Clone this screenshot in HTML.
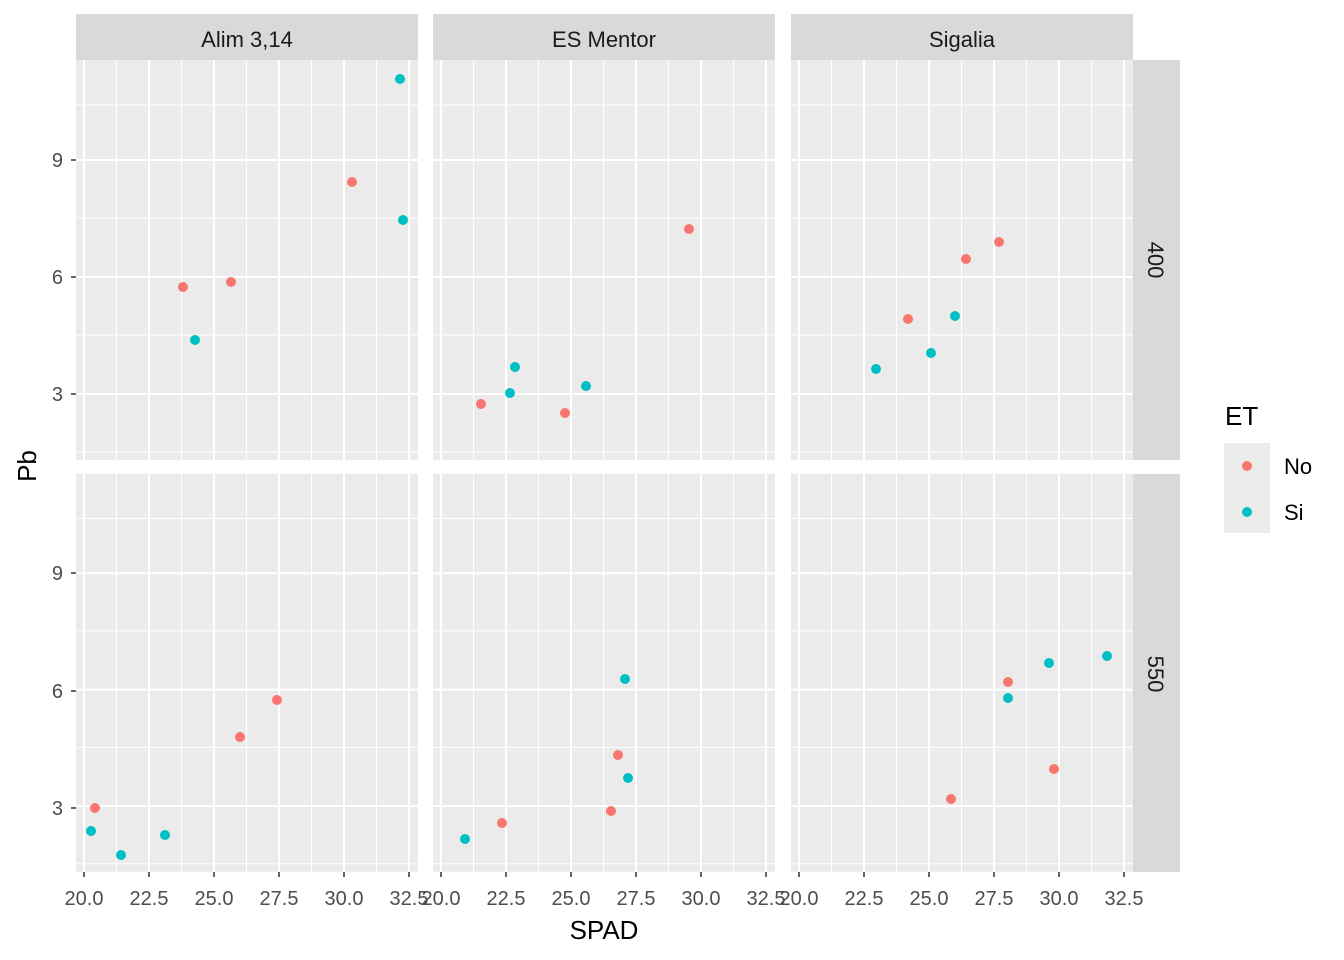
<!DOCTYPE html>
<html><head><meta charset="utf-8"><style>body{margin:0;background:#fff}svg{display:block}text{font-family:"Liberation Sans",Arial,sans-serif}</style></head>
<body>
<svg width="1344" height="960" viewBox="0 0 1344 960" xmlns="http://www.w3.org/2000/svg">
<defs>
<g id="grid">
<rect x="0" y="0" width="342" height="400" fill="#EBEBEB"/>
<g stroke="#fff" stroke-width="1">
<line x1="0" x2="342" y1="45" y2="45"/><line x1="0" x2="342" y1="158" y2="158"/><line x1="0" x2="342" y1="275" y2="275"/><line x1="0" x2="342" y1="392" y2="392"/>
<line y1="0" y2="400" x1="40.5" x2="40.5"/><line y1="0" y2="400" x1="105.5" x2="105.5"/><line y1="0" y2="400" x1="170.5" x2="170.5"/><line y1="0" y2="400" x1="235.5" x2="235.5"/><line y1="0" y2="400" x1="300.5" x2="300.5"/>
</g>
<g stroke="#fff" stroke-width="2">
<line x1="0" x2="342" y1="100" y2="100"/><line x1="0" x2="342" y1="217" y2="217"/><line x1="0" x2="342" y1="334" y2="334"/>
<line y1="0" y2="400" x1="8" x2="8"/><line y1="0" y2="400" x1="73" x2="73"/><line y1="0" y2="400" x1="138" x2="138"/><line y1="0" y2="400" x1="203" x2="203"/><line y1="0" y2="400" x1="268" x2="268"/><line y1="0" y2="400" x1="333" x2="333"/>
</g>
</g>
</defs>
<use href="#grid" x="76" y="60"/><use href="#grid" x="433" y="60"/><use href="#grid" x="791" y="60"/>
<g transform="translate(0,413) scale(1,0.995)"><use href="#grid" x="76" y="61"/><use href="#grid" x="433" y="61"/><use href="#grid" x="791" y="61"/></g>
<g fill="#D9D9D9">
<rect x="76" y="14" width="342" height="46"/><rect x="433" y="14" width="342" height="46"/><rect x="791" y="14" width="342" height="46"/>
<rect x="1133" y="60" width="47" height="400"/><rect x="1133" y="474" width="47" height="398"/>
</g>
<g font-size="22" fill="#1A1A1A" text-anchor="middle">
<text x="247" y="47">Alim 3,14</text><text x="604" y="47">ES Mentor</text><text x="962" y="47">Sigalia</text>
<text transform="translate(1148,260) rotate(90)">400</text>
<text transform="translate(1148,674) rotate(90)">550</text>
</g>
<g font-size="20" fill="#4D4D4D" text-anchor="end">
<text x="63" y="167">9</text><text x="63" y="284">6</text><text x="63" y="401">3</text>
<text x="63" y="580">9</text><text x="63" y="698">6</text><text x="63" y="815">3</text>
</g>
<g stroke="#333" stroke-width="1.5">
<line x1="71" x2="76" y1="160" y2="160"/><line x1="71" x2="76" y1="277" y2="277"/><line x1="71" x2="76" y1="394" y2="394"/>
<line x1="71" x2="76" y1="573" y2="573"/><line x1="71" x2="76" y1="691" y2="691"/><line x1="71" x2="76" y1="808" y2="808"/>
</g>
<g id="xt" font-size="20" fill="#4D4D4D" text-anchor="middle">
<text x="84" y="905">20.0</text><text x="149" y="905">22.5</text><text x="214" y="905">25.0</text><text x="279" y="905">27.5</text><text x="344" y="905">30.0</text><text x="409" y="905">32.5</text>
<g stroke="#333" stroke-width="1.5"><line x1="84" x2="84" y1="872" y2="877"/><line x1="149" x2="149" y1="872" y2="877"/><line x1="214" x2="214" y1="872" y2="877"/><line x1="279" x2="279" y1="872" y2="877"/><line x1="344" x2="344" y1="872" y2="877"/><line x1="409" x2="409" y1="872" y2="877"/></g>
</g>
<use href="#xt" x="357"/><use href="#xt" x="715"/>
<text x="604" y="939" font-size="26" text-anchor="middle" fill="#000">SPAD</text>
<text transform="translate(36,466) rotate(-90)" font-size="26" text-anchor="middle" fill="#000">Pb</text>
<g fill="#F8766D">
<circle cx="183" cy="287" r="5"/><circle cx="231" cy="282" r="5"/><circle cx="352" cy="182" r="5"/>
<circle cx="481" cy="404" r="5"/><circle cx="565" cy="413" r="5"/><circle cx="689" cy="229" r="5"/>
<circle cx="908" cy="319" r="5"/><circle cx="966" cy="259" r="5"/><circle cx="999" cy="242" r="5"/>
<circle cx="95" cy="808" r="5"/><circle cx="240" cy="737" r="5"/><circle cx="277" cy="700" r="5"/>
<circle cx="502" cy="823" r="5"/><circle cx="611" cy="811" r="5"/><circle cx="618" cy="755" r="5"/>
<circle cx="951" cy="799" r="5"/><circle cx="1008" cy="682" r="5"/><circle cx="1054" cy="769" r="5"/>
</g>
<g fill="#00BFC4">
<circle cx="195" cy="340" r="5"/><circle cx="400" cy="79" r="5"/><circle cx="403" cy="220" r="5"/>
<circle cx="510" cy="393" r="5"/><circle cx="515" cy="367" r="5"/><circle cx="586" cy="386" r="5"/>
<circle cx="876" cy="369" r="5"/><circle cx="931" cy="353" r="5"/><circle cx="955" cy="316" r="5"/>
<circle cx="91" cy="831" r="5"/><circle cx="121" cy="855" r="5"/><circle cx="165" cy="835" r="5"/>
<circle cx="465" cy="839" r="5"/><circle cx="625" cy="679" r="5"/><circle cx="628" cy="778" r="5"/>
<circle cx="1008" cy="698" r="5"/><circle cx="1049" cy="663" r="5"/><circle cx="1107" cy="656" r="5"/>
</g>
<text x="1225" y="425" font-size="26" fill="#000">ET</text>
<rect x="1224" y="443" width="46" height="90" fill="#EBEBEB"/>
<circle cx="1247" cy="466" r="5" fill="#F8766D"/><circle cx="1247" cy="512" r="5" fill="#00BFC4"/>
<text x="1284" y="474" font-size="22" fill="#000">No</text><text x="1284" y="520" font-size="22" fill="#000">Si</text>
</svg>
</body></html>
